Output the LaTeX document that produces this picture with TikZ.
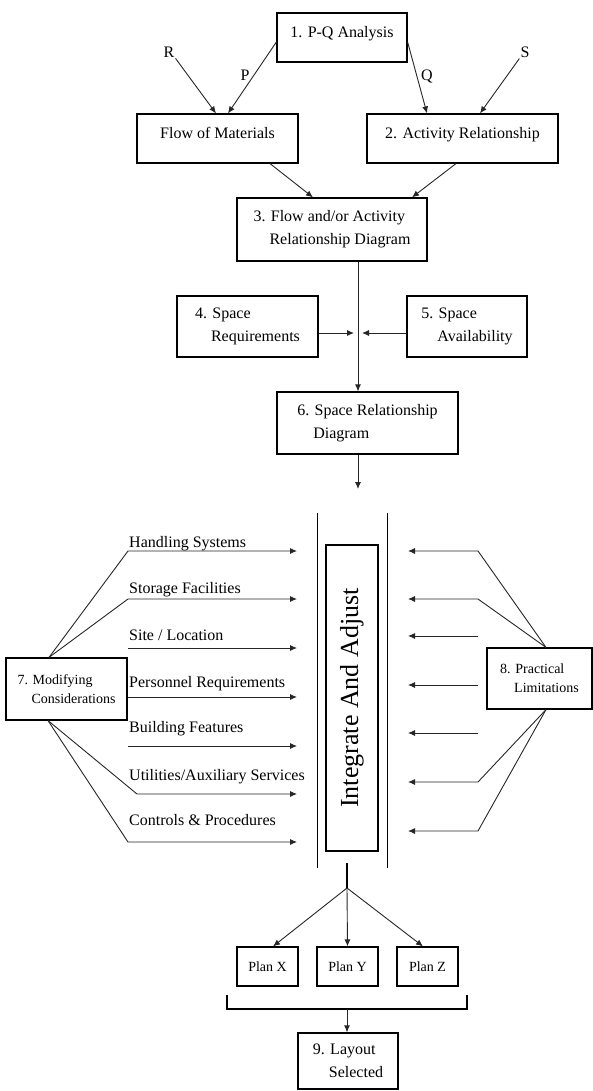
\documentclass[tikz,border=0pt]{standalone}
\usepackage{fontspec}
\setmainfont{Liberation Serif}
\usetikzlibrary{arrows.meta, positioning}
\newcommand{\txtmain}{\fontsize{16}{23}\selectfont}
\newcommand{\txtsmall}{\fontsize{14}{19}\selectfont}
\newcommand{\txtbig}{\fontsize{26}{30}\selectfont}

\begin{document}
\begin{tikzpicture}[
			x=1pt, y=-1pt,
			box/.style={rectangle, draw, line width=1.2pt, align=left, font=\txtmain, inner sep=2pt},
			sbox/.style={box, font=\txtsmall},
			upper/.style={text depth=12pt},
			lab/.style={font=\txtmain, inner sep=1pt},
			arrow/.style={-{Latex[length=7pt,width=6pt]}, line width=0.9pt, black!85},
			plain/.style={line width=0.9pt, black!85}
		]
		\useasboundingbox (0,0) rectangle (593,1091);
		
		% Steps 1 to 3
		\node[box, minimum width=130pt, minimum height=49pt, upper] (pq) at (342,37.5) {1. P-Q Analysis};
		\node[box, minimum width=161pt, minimum height=49pt, upper] (flow) at (217.5,138.5) {Flow of Materials};
		\node[box, minimum width=191pt, minimum height=49pt, upper] (act) at (462.5,138.5) {2. Activity Relationship};
		\node[box, minimum width=190pt, minimum height=63pt] (fard) at (332,229.5) {3. Flow and/or Activity\\\hspace*{1em}Relationship Diagram};
		\node[lab] (r-in) at (169,52) {R};
		\node[lab] (p-lab) at (245,75) {P};
		\node[lab] (q-lab) at (427,77) {Q};
		\node[lab] (s-in) at (525,52) {S};
		
		\draw[arrow] (r-in.south east) -- ([xshift=-1.5pt]flow.north);
		\draw[arrow] ([yshift=-4.5pt]pq.west) -- ([xshift=10.5pt]flow.north);
		\draw[arrow] ([yshift=-4.5pt]pq.east) -- ([xshift=-35.5pt]act.north);
		\draw[arrow] (s-in.south west) -- ([xshift=17.5pt]act.north);
		\draw[arrow] ([xshift=52.5pt]flow.south) -- ([xshift=-19pt]fard.north);
		\draw[arrow] ([xshift=-6.5pt]act.south) -- ([xshift=80pt]fard.north);
		
		% Steps 4 to 6
		\coordinate (spine) at (358,333);
		\node[box, minimum width=141pt, minimum height=61pt] (spreq) at (247.5,326.5) {4. Space\\\hspace*{1em}Requirements};
		\node[box, minimum width=120pt, minimum height=61pt] (spav) at (467,326.5) {5. Space\\\hspace*{1em}Availability};
		\node[box, minimum width=181pt, minimum height=62pt] (srd) at (367.5,423) {6. Space Relationship\\\hspace*{1em}Diagram};
		\coordinate (srd-out) at (358,489);
		
		\draw[arrow] (fard.south -| spine) -- (srd.north -| spine);
		\draw[arrow] (spreq.east |- spine) -- ([xshift=-4pt]spine);
		\draw[arrow] (spav.west |- spine) -- ([xshift=4pt]spine);
		\draw[arrow] (srd.south -| spine) -- (srd-out);
		
		% Integrate and adjust
		\draw[line width=1pt] (317,513) -- (317,868);
		\draw[line width=1pt] (387,513) -- (387,868);
		\node[box, font=\txtbig, rotate=90, minimum width=306pt, minimum height=52pt] (integ) at (352,698) {Integrate And Adjust};
		
		% Modifying considerations
		\node[sbox, minimum width=121pt, minimum height=62pt] (mod) at (66.5,689) {7. Modifying\\\hspace*{1em}Considerations};
		\node[lab, anchor=base west] (hs) at (128,547) {Handling Systems};
		\node[lab, anchor=base west] (sf) at (128,593) {Storage Facilities};
		\node[lab, anchor=base west] (sl) at (128,640) {Site / Location};
		\node[lab, anchor=base west] (pr) at (128,687) {Personnel Requirements};
		\node[lab, anchor=base west] (bf) at (128,732) {Building Features};
		\node[lab, anchor=base west] (us) at (128,780) {Utilities/Auxiliary Services};
		\node[lab, anchor=base west] (cp) at (128,825) {Controls \& Procedures};
		\coordinate (hs-a) at (128,551); \coordinate (hs-b) at (297,551);
		\coordinate (sf-a) at (128,599); \coordinate (sf-b) at (297,599);
		\coordinate (sl-a) at (128,648); \coordinate (sl-b) at (297,648);
		\coordinate (pr-a) at (128,697); \coordinate (pr-b) at (297,697);
		\coordinate (bf-a) at (128,746); \coordinate (bf-b) at (297,746);
		\coordinate (us-a) at (137,794); \coordinate (us-b) at (297,794);
		\coordinate (cp-a) at (128,842); \coordinate (cp-b) at (297,842);
		
		\draw[arrow] ([xshift=-17.5pt]mod.north) -- (hs-a) -- (hs-b);
		\draw[arrow] ([xshift=-17.5pt]mod.north) -- (sf-a) -- (sf-b);
		\draw[arrow] (sl-a) -- (sl-b);
		\draw[arrow] (pr-a) -- (pr-b);
		\draw[arrow] (bf-a) -- (bf-b);
		\draw[arrow] ([xshift=-18.5pt]mod.south) -- (us-a) -- (us-b);
		\draw[arrow] ([xshift=-18.5pt]mod.south) -- (cp-a) -- (cp-b);
		
		% Practical limitations
		\node[sbox, minimum width=105pt, minimum height=61pt] (prac) at (539.5,678.5) {8. Practical\\\hspace*{1em}Limitations};
		\coordinate (pl1) at (478,551); \coordinate (pl1-end) at (408,551);
		\coordinate (pl2) at (478,599); \coordinate (pl2-end) at (408,599);
		\coordinate (pl3) at (478,636); \coordinate (pl3-end) at (408,636);
		\coordinate (pl4) at (478,685); \coordinate (pl4-end) at (408,685);
		\coordinate (pl5) at (478,733); \coordinate (pl5-end) at (408,733);
		\coordinate (pl6) at (478,782); \coordinate (pl6-end) at (408,782);
		\coordinate (pl7) at (478,831); \coordinate (pl7-end) at (408,831);
		
		\draw[arrow] ([xshift=6.5pt]prac.north) -- (pl1) -- (pl1-end);
		\draw[arrow] ([xshift=6.5pt]prac.north) -- (pl2) -- (pl2-end);
		\draw[arrow] (pl3) -- (pl3-end);
		\draw[arrow] (pl4) -- (pl4-end);
		\draw[arrow] (pl5) -- (pl5-end);
		\draw[arrow] ([xshift=6.5pt]prac.south) -- (pl6) -- (pl6-end);
		\draw[arrow] ([xshift=6.5pt]prac.south) -- (pl7) -- (pl7-end);
		
		% Plans and selection
		\coordinate (fork-top) at (347,863);
		\coordinate (fork) at (347,888);
		\node[sbox, minimum width=61pt, minimum height=39pt] (plan-x) at (267.5,966.5) {Plan X};
		\node[sbox, minimum width=61pt, minimum height=39pt] (plan-y) at (347.5,966.5) {Plan Y};
		\node[sbox, minimum width=61pt, minimum height=39pt] (plan-z) at (427.5,966.5) {Plan Z};
		\node[box, minimum width=100pt, minimum height=56pt] (layout) at (348,1061) {9. Layout\\\hspace*{1em}Selected};
		\coordinate (brace-l) at (227,995);
		\coordinate (brace-r) at (467,995);
		\coordinate (brace-mid) at (347,1009);
		
		\draw[line width=1.2pt] (fork-top) -- (fork);
		\draw[arrow] (fork) -- ([xshift=5.5pt]plan-x.north);
		\draw[arrow] (fork) -- (plan-y.north);
		\draw[arrow] (fork) -- ([xshift=-4.5pt]plan-z.north);
		\draw[line width=1.2pt] (brace-l) -- (brace-l |- brace-mid) -- (brace-r |- brace-mid) -- (brace-r);
		\draw[arrow] (brace-mid) -- (layout.north -| brace-mid);
		\end{tikzpicture}
\end{document}
